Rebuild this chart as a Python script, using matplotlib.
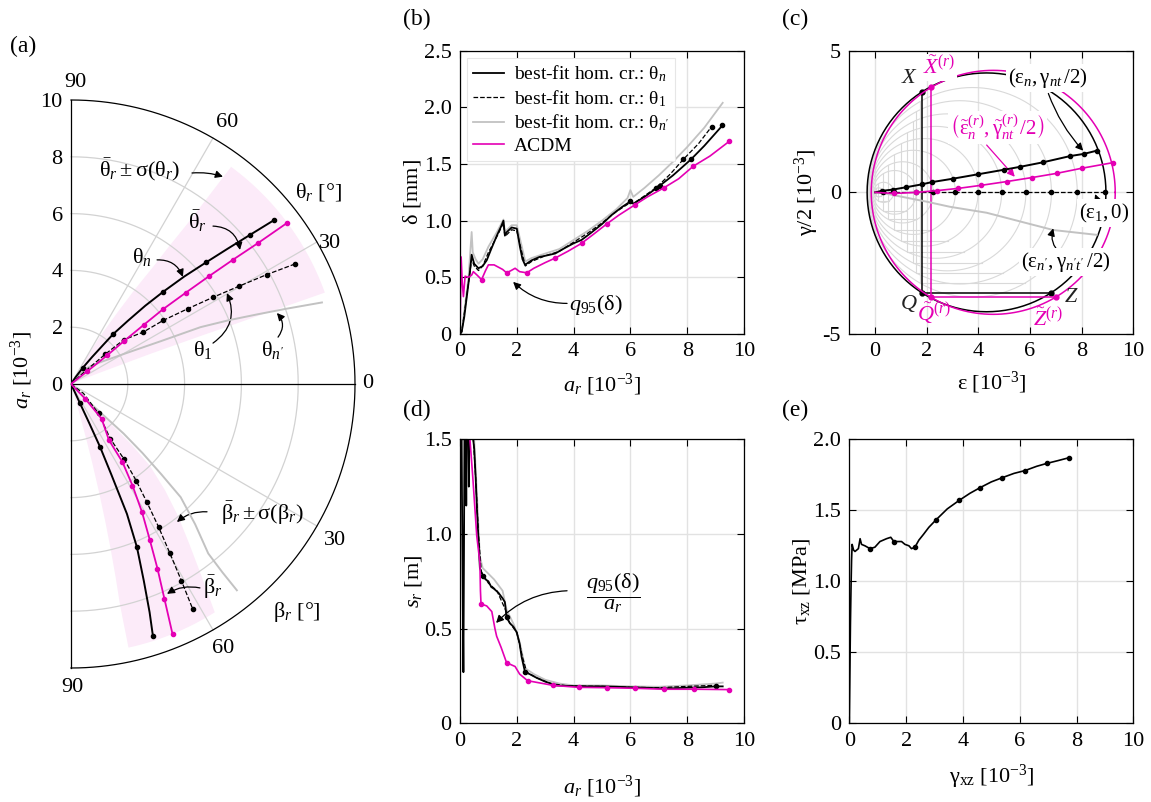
import numpy as np
import matplotlib
matplotlib.use('Agg')
import matplotlib.pyplot as plt
from matplotlib.lines import Line2D

plt.rcParams['font.family'] = 'serif'
plt.rcParams['font.serif'] = ['Liberation Serif', 'DejaVu Serif']
plt.rcParams['mathtext.fontset'] = 'custom'
plt.rcParams['mathtext.rm'] = 'Liberation Serif'
plt.rcParams['mathtext.it'] = 'Liberation Serif:italic'
plt.rcParams['mathtext.bf'] = 'Liberation Serif:bold'
plt.rcParams['mathtext.fallback'] = 'stix'

MAG = '#e400b4'
GRAY = '#c2c2c2'
GRID = '#e2e2e2'
BAND = '#fcebf9'
FS = 16

# ---------------- (a) polar data: radius a_r [1e-3], angles in degrees
th_n_r = [0, 0.3, 0.7, 1.2, 1.8, 2.3, 3.0, 3.8, 4.6, 5.5, 6.4, 7.3, 8.2, 9.2]
th_n = [58, 56, 54, 52, 50.5, 49.8, 48, 46.5, 45, 43.5, 42, 40.8, 39.8, 38.9]
th_1_r = [0, 0.7, 1.6, 2.42, 3.13, 3.94, 4.9, 5.86, 6.85, 7.9, 8.93]
th_1 = [45, 42, 41, 40, 35.7, 34.6, 32.8, 31.4, 30.2, 29.2, 28.2]
th_np_r = [0, 0.4, 0.8, 1.28, 2.5, 3.5, 4.98, 6.0, 7.0, 8.0, 9.29]
th_np = [50, 48, 45, 36.7, 28.1, 25.5, 23.7, 22, 20.5, 19.3, 18]
acdm_r = [0, 0.72, 1.63, 2.38, 3.29, 4.18, 5.16, 6.16, 7.18, 8.25, 9.5]
th_acdm = [38, 38, 38.4, 39, 39.1, 39.1, 38.5, 38, 37.5, 37, 36.7]
be_acdm = [46, 46, 48.6, 55.9, 56.6, 58.8, 61, 63.2, 64.9, 66.5, 67.9]
be_n_r = [0, 0.75, 1.5, 2.44, 3.5, 4.98, 6.2, 7.39, 8.5, 9.34]
be_n = [65, 65, 65, 65.2, 66, 66.7, 68, 69.7, 71, 72]
be_1_r = [0, 0.55, 1.42, 2.37, 3.25, 4.1, 4.95, 5.9, 6.9, 7.95, 9.02]
be_1 = [37, 37, 47, 54.3, 54.8, 56, 57.3, 58.5, 59.7, 60.7, 61.6]
be_np_r = [0, 0.79, 1.5, 2.54, 3.5, 4.5, 5.55, 6.6, 7.68, 8.5, 9.32]
be_np = [45.5, 45.5, 44, 43.3, 44, 45, 45.9, 48.5, 51, 51.2, 51.2]
band_r = [0, 1, 2, 3, 4, 5, 6, 7, 8, 9.5]
th_hi = [62, 60, 58.5, 57, 56, 55, 54.5, 54, 53.8, 53.6]
th_lo = [22, 21.5, 21, 20.8, 20.5, 20.3, 20.1, 20, 19.9, 19.8]
be_hi = [74, 74, 74.5, 75, 75.5, 76, 76.5, 77, 77.5, 77.7]
be_lo = [45, 45, 45, 45, 46, 48.5, 51, 53.5, 55.5, 57.8]

# ---------------- (b) delta vs a_r
b_x_n = [0, 0.06, 0.15, 0.25, 0.35, 0.41, 0.5, 0.65, 0.8, 0.94, 1.1, 1.3, 1.45, 1.53, 1.58, 1.65, 1.82,
         2.0, 2.11, 2.2, 2.29, 2.4, 2.52, 2.8, 3.0, 3.35, 3.7, 4.0, 4.28, 4.6, 5.0, 5.34, 5.7, 6.0, 6.1,
         6.5, 7.04, 7.5, 8.13, 8.6, 9.24]
b_y_n = [0, 0.02, 0.15, 0.35, 0.55, 0.70, 0.62, 0.58, 0.60, 0.65, 0.75, 0.87, 0.95, 1.0, 0.87, 0.90, 0.94,
         0.93, 0.77, 0.66, 0.61, 0.63, 0.65, 0.68, 0.69, 0.71, 0.76, 0.80, 0.83, 0.89, 0.97, 1.05, 1.12, 1.17,
         1.15, 1.21, 1.31, 1.40, 1.54, 1.66, 1.84]
b_x_1 = [0, 0.06, 0.15, 0.3, 0.41, 0.5, 0.65, 0.8, 1.0, 1.3, 1.53, 1.58, 1.82, 2.0, 2.15, 2.3, 2.52, 3.0,
         3.5, 4.0, 4.5, 5.0, 5.5, 6.0, 6.1, 6.9, 7.4, 7.86, 8.4, 8.86]
b_y_1 = [0, 0.02, 0.18, 0.45, 0.66, 0.6, 0.56, 0.6, 0.72, 0.86, 0.98, 0.86, 0.92, 0.91, 0.75, 0.6, 0.64,
         0.69, 0.73, 0.81, 0.89, 0.98, 1.08, 1.16, 1.15, 1.29, 1.41, 1.54, 1.68, 1.83]
b_x_g = [0, 0.06, 0.15, 0.3, 0.41, 0.45, 0.55, 0.65, 0.8, 1.0, 1.3, 1.53, 1.58, 1.82, 2.0, 2.15, 2.3, 2.52,
         3.0, 3.5, 4.0, 4.5, 5.0, 5.5, 5.9, 6.0, 6.1, 6.5, 7.0, 7.5, 8.0, 8.6, 9.25]
b_y_g = [0, 0.02, 0.2, 0.5, 0.9, 0.72, 0.66, 0.62, 0.66, 0.77, 0.9, 1.01, 0.9, 0.96, 0.96, 0.8, 0.64, 0.67,
         0.71, 0.75, 0.83, 0.91, 1.0, 1.1, 1.2, 1.27, 1.21, 1.29, 1.40, 1.52, 1.65, 1.82, 2.04]
b_x_m = [0, 0.04, 0.08, 0.12, 0.18, 0.3, 0.41, 0.47, 0.6, 0.76, 0.9, 1.0, 1.2, 1.35, 1.5, 1.64, 1.8, 1.94,
         2.1, 2.35, 2.6, 3.0, 3.35, 3.8, 4.28, 4.7, 5.16, 5.6, 6.16, 6.6, 7.18, 7.7, 8.21, 8.8, 9.48]
b_y_m = [0, 0.68, 0.45, 0.33, 0.51, 0.5, 0.52, 0.55, 0.52, 0.48, 0.56, 0.61, 0.61, 0.59, 0.57, 0.54, 0.56,
         0.58, 0.55, 0.54, 0.58, 0.63, 0.67, 0.73, 0.80, 0.88, 0.97, 1.05, 1.14, 1.21, 1.29, 1.37, 1.48, 1.57,
         1.70]

# ---------------- (c) Mohr circles (strain, 1e-3)
c_x_n = [0, 0.25, 0.7, 1.2, 1.8, 2.19, 3.0, 4.0, 5.0, 5.61, 6.5, 7.55, 8.1, 8.58]
c_y_n = [0, 0.05, 0.1, 0.18, 0.28, 0.36, 0.48, 0.64, 0.8, 0.9, 1.06, 1.28, 1.36, 1.47]
c_x_m = [0, 0.72, 1.6, 2.38, 3.22, 4.12, 5.09, 6.06, 7.03, 8.0, 9.22]
c_y_m = [0, -0.04, 0, 0.06, 0.14, 0.25, 0.38, 0.52, 0.67, 0.85, 1.05]
c_x_1 = [0, 0.31, 0.72, 1.6, 2.25, 3.11, 3.99, 4.9, 5.84, 6.83, 7.83, 8.9]
c_x_g = [0, 0.5, 1.0, 2.0, 2.9, 4.32, 5.5, 6.9, 8.58]
c_y_g = [0, -0.06, -0.15, -0.33, -0.51, -0.72, -1.0, -1.33, -1.5]
step_e1 = [0.31, 0.72, 1.6, 2.25, 3.11, 3.99, 4.9, 5.84, 6.83, 7.83]
step_e2 = [-0.04, -0.06, -0.09, -0.12, -0.15, -0.18, -0.21, -0.24, -0.27, -0.29]
step_ex = [0.05, 0.12, 0.3, 0.5, 0.75, 1.0, 1.25, 1.45, 1.6, 1.72]
fin_n = (8.94, -0.31, 1.82)    # eps1, eps2, eps_x
fin_m = (9.3, -0.15, 2.16)

# ---------------- (d) spacing s_r
d_x_n = [0.04, 0.07, 0.1, 0.12, 0.14, 0.17, 0.2, 0.22, 0.25, 0.28, 0.31, 0.35, 0.4, 0.45, 0.5, 0.55, 0.6,
         0.65, 0.7, 0.8, 0.9, 1.0, 1.1, 1.2, 1.35, 1.5, 1.58, 1.64, 1.75, 1.88, 2.0, 2.1, 2.17, 2.29, 2.45,
         2.7, 3.0, 3.4, 3.9, 4.5, 5.0, 5.5, 6.0, 6.5, 7.0, 7.5, 8.0, 8.5, 9.0, 9.25]
d_y_n = [2.0, 1.2, 0.6, 0.27, 0.9, 2.0, 1.6, 1.15, 2.0, 1.7, 1.25, 2.0, 1.7, 1.52, 1.45, 1.3, 1.12, 0.97,
         0.82, 0.78, 0.76, 0.75, 0.72, 0.71, 0.69, 0.66, 0.64, 0.56, 0.53, 0.51, 0.48, 0.42, 0.35, 0.27, 0.26,
         0.24, 0.22, 0.20, 0.197, 0.195, 0.195, 0.193, 0.19, 0.188, 0.185, 0.185, 0.188, 0.19, 0.195, 0.195]
d_x_g = [0.3, 0.4, 0.5, 0.6, 0.7, 0.8, 1.0, 1.2, 1.5, 1.64, 1.9, 2.1, 2.3, 2.6, 3.0, 3.5, 4, 5, 6, 7, 8, 9,
         9.25]
d_y_g = [2.0, 1.6, 1.5, 1.2, 0.88, 0.82, 0.79, 0.76, 0.7, 0.6, 0.52, 0.43, 0.29, 0.26, 0.23, 0.21, 0.2, 0.2,
         0.195, 0.193, 0.2, 0.21, 0.215]
d_x_1 = [0.3, 0.45, 0.55, 0.65, 0.75, 1.0, 1.3, 1.6, 1.75, 2.0, 2.2, 2.35, 2.7, 3.2, 3.8, 5, 6, 7, 8, 8.9]
d_y_1 = [2.0, 1.55, 1.3, 1.0, 0.8, 0.74, 0.7, 0.6, 0.53, 0.48, 0.35, 0.27, 0.24, 0.21, 0.197, 0.195, 0.19,
         0.188, 0.195, 0.2]
d_x_m = [0.3, 0.35, 0.45, 0.59, 0.7, 0.72, 0.74, 0.94, 1.12, 1.23, 1.29, 1.45, 1.64, 1.94, 2.1, 2.38, 3.29,
         4.18, 5.16, 6.16, 7.18, 8.24, 9.48]
d_y_m = [2.0, 1.5, 1.3, 0.99, 0.85, 0.7, 0.63, 0.62, 0.59, 0.50, 0.46, 0.40, 0.32, 0.30, 0.26, 0.225, 0.20,
         0.19, 0.188, 0.185, 0.18, 0.18, 0.178]

# ---------------- (e) shear stress vs shear strain
e_x = [0, 0.02, 0.04, 0.06, 0.08, 0.1, 0.15, 0.2, 0.32, 0.38, 0.43, 0.55, 0.73, 0.9, 1.08, 1.31, 1.46, 1.57,
       1.7, 1.84, 1.96, 2.1, 2.19, 2.31, 2.45, 2.61, 2.8, 3.04, 3.45, 3.87, 4.25, 4.61, 5.0, 5.39, 5.8, 6.19,
       6.6, 6.95, 7.35, 7.73]
e_y = [0, 0.35, 0.7, 0.95, 1.15, 1.26, 1.22, 1.21, 1.23, 1.30, 1.26, 1.25, 1.23, 1.24, 1.28, 1.30, 1.31,
       1.28, 1.28, 1.28, 1.26, 1.25, 1.23, 1.24, 1.29, 1.33, 1.38, 1.43, 1.51, 1.57, 1.62, 1.66, 1.70, 1.73,
       1.76, 1.78, 1.81, 1.83, 1.85, 1.87]
e_marks = [0.73, 1.57, 2.31, 3.04, 3.87, 4.61, 5.39, 6.19, 6.95, 7.73]


def pol(r, ang, lower=False):
    r = np.asarray(r, float)
    a = np.radians(ang)
    s = -1.0 if lower else 1.0
    return r * np.cos(a), s * r * np.sin(a)


def near(xs, vals):
    xs = np.asarray(xs, float)
    return [int(np.argmin(np.abs(xs - v))) for v in vals]


def arrow(ax, txt_xy, tip_xy, rad=0.0, color='k'):
    ax.annotate('', xy=tip_xy, xytext=txt_xy,
                arrowprops=dict(arrowstyle='-|>', color=color, lw=0.9, mutation_scale=11,
                                shrinkA=0, shrinkB=0, connectionstyle='arc3,rad=%s' % rad))


def style(ax):
    ax.tick_params(direction='in', top=True, right=True, length=5, width=0.8,
                   labelsize=FS, pad=6)
    for s in ax.spines.values():
        s.set_linewidth(0.9)
    ax.grid(True, color=GRID, lw=1.0)
    ax.set_axisbelow(True)


fig = plt.figure(figsize=(11.51, 8.02), dpi=100)

# ======================= (a)
axa = fig.add_axes([71 / 1151, 134 / 802, 284 / 1151, 568 / 802])
axa.set_xlim(0, 10)
axa.set_ylim(-10, 10)
for s in ['top', 'right', 'bottom']:
    axa.spines[s].set_visible(False)
axa.spines['left'].set_linewidth(0.9)
axa.set_xticks([])
axa.set_yticks([0, 2, 4, 6, 8, 10])
axa.set_yticklabels(['0', '2', '4', '6', '8', '10'])
axa.tick_params(axis='y', length=0, pad=6, labelsize=FS)

phi = np.linspace(-90, 90, 361)
for rr in [2, 4, 6, 8]:
    axa.plot(*pol(rr, phi), color='#d2d2d2', lw=0.9, clip_on=False, zorder=1)
for ang in [30, 60, -30, -60]:
    axa.plot(*pol([0, 10], [ang, ang]), color='#d2d2d2', lw=0.9, clip_on=False, zorder=1)
axa.plot(*pol(10, phi), color='k', lw=0.9, clip_on=False, zorder=3)
axa.plot([0, 10], [0, 0], color='k', lw=0.9, clip_on=False, zorder=3)

# shaded sectors
for lo, hi, low in [(th_lo, th_hi, False), (be_lo, be_hi, True)]:
    arc = np.linspace(hi[-1], lo[-1], 30)
    xs = np.concatenate([pol(band_r, hi, low)[0], pol(band_r[-1], arc, low)[0], pol(band_r[::-1], lo[::-1], low)[0]])
    ys = np.concatenate([pol(band_r, hi, low)[1], pol(band_r[-1], arc, low)[1], pol(band_r[::-1], lo[::-1], low)[1]])
    axa.fill(xs, ys, color=BAND, lw=0, zorder=0, clip_on=False)

axa.plot(*pol(th_np_r, th_np), color=GRAY, lw=1.4, zorder=4)
axa.plot(*pol(th_1_r, th_1), 'k--', lw=0.9, marker='o', ms=3, markevery=list(range(2, 11)), zorder=5)
axa.plot(*pol(th_n_r, th_n), 'k-', lw=1.4, marker='o', ms=3, markevery=[2, 5, 8, 10, 12, 13], zorder=5)
axa.plot(*pol(acdm_r, th_acdm), color=MAG, lw=1.3, marker='o', ms=3, markevery=list(range(1, 11)), zorder=6)

axa.plot(*pol(be_np_r, be_np, True), color=GRAY, lw=1.4, zorder=4)
axa.plot(*pol(be_1_r, be_1, True), 'k--', lw=0.9, marker='o', ms=3, markevery=list(range(2, 11)), zorder=5)
axa.plot(*pol(be_n_r, be_n, True), 'k-', lw=1.4, marker='o', ms=3, markevery=[1, 3, 6, 9], zorder=5)
axa.plot(*pol(acdm_r, be_acdm, True), color=MAG, lw=1.3, marker='o', ms=3, markevery=list(range(1, 11)), zorder=6)

for (tx, ty, s) in [(0.14, 10.6, '90'), (5.5, 9.2, '60'), (9.12, 4.96, '30'), (10.45, 0, '0'),
                    (9.3, -5.5, '30'), (5.35, -9.3, '60'), (0.05, -10.7, '90')]:
    axa.text(tx, ty, s, fontsize=FS, ha='center', va='center', clip_on=False)
axa.text(8.7, 6.76, r'$\mathrm{θ}_r$ [°]', fontsize=FS, ha='center', va='center')
axa.text(7.96, -8.03, r'$\mathrm{β}_r$ [°]', fontsize=FS, ha='center', va='center')

axa.text(2.43, 7.54, r'$\bar{\mathrm{θ}}_r \pm \mathrm{σ}(\mathrm{θ}_r)$', fontsize=FS, ha='center', va='center')
arrow(axa, (4.26, 7.43), (5.35, 7.3), rad=-0.1)
axa.text(4.47, 5.72, r'$\bar{\mathrm{θ}}_r$', fontsize=FS, ha='center', va='center')
arrow(axa, (5.0, 5.56), (5.95, 4.72), rad=-0.4)
axa.text(2.5, 4.47, r'$\mathrm{θ}_n$', fontsize=FS, ha='center', va='center')
arrow(axa, (3.03, 4.37), (3.94, 3.77), rad=-0.35)
axa.text(4.65, 1.2, r'$\mathrm{θ}_1$', fontsize=FS, ha='center', va='center')
arrow(axa, (5.0, 1.44), (5.49, 3.2), rad=0.4)
axa.text(7.08, 1.2, r"$\mathrm{θ}_{n'}$", fontsize=FS, ha='center', va='center')
arrow(axa, (7.29, 1.65), (7.25, 2.5), rad=0.4)
axa.text(6.73, -4.54, r'$\bar{\mathrm{β}}_r \pm \mathrm{σ}(\mathrm{β}_r)$', fontsize=FS, ha='center', va='center')
arrow(axa, (4.79, -4.5), (3.73, -4.86), rad=0.2)
axa.text(5.0, -7.15, r'$\bar{\mathrm{β}}_r$', fontsize=FS, ha='center', va='center')
arrow(axa, (4.54, -7.18), (3.38, -7.39), rad=0.2)

axa.set_ylabel(r'$a_r$ [10$^{-3}$]', fontsize=FS, va='center')
axa.yaxis.set_label_coords(-0.173, 0.525)

# ======================= (b)
axb = fig.add_axes([460 / 1151, 468 / 802, 284 / 1151, 283.3 / 802])
style(axb)
axb.plot(b_x_g, b_y_g, color=GRAY, lw=1.3)
axb.plot(b_x_1, b_y_1, 'k--', lw=0.9, marker='o', ms=3,
         markevery=near(b_x_1, [6.9, 7.86, 8.86]))
axb.plot(b_x_n, b_y_n, 'k-', lw=1.3, marker='o', ms=3,
         markevery=near(b_x_n, [6.0, 7.04, 8.13, 9.24]))
axb.plot(b_x_m, b_y_m, color=MAG, lw=1.2, marker='o', ms=3,
         markevery=near(b_x_m, [0.76, 1.64, 2.35, 3.35, 4.28, 5.16, 6.16, 7.18, 8.21, 9.48]))
axb.set_xlim(0, 10)
axb.set_ylim(0, 2.5)
axb.set_xticks([0, 2, 4, 6, 8, 10])
axb.set_yticks([0, 0.5, 1.0, 1.5, 2.0, 2.5])
axb.set_yticklabels(['0', '0.5', '1.0', '1.5', '2.0', '2.5'])
axb.set_ylabel(r'$\mathrm{δ}$ [mm]', fontsize=FS, va='center')
axb.yaxis.set_label_coords(-0.169, 0.5)
axb.set_xlabel(r'$a_r$ [10$^{-3}$]', fontsize=FS, va='center')
axb.xaxis.set_label_coords(0.5, -0.18)
handles = [Line2D([], [], color='k', lw=1.3), Line2D([], [], color='k', ls='--', lw=0.9),
           Line2D([], [], color=GRAY, lw=1.3), Line2D([], [], color=MAG, lw=1.2)]
labels = [r'best-fit hom. cr.: $\mathrm{θ}_n$', r'best-fit hom. cr.: $\mathrm{θ}_1$',
          r"best-fit hom. cr.: $\mathrm{θ}_{n'}$", 'ACDM']
leg = axb.legend(handles, labels, loc='upper left', bbox_to_anchor=(0.025, 0.975), fontsize=14,
                 frameon=True, fancybox=False, framealpha=1, edgecolor='#e6e6e6',
                 handlelength=1.6, handletextpad=0.5, labelspacing=0.2, borderpad=0.3,
                 borderaxespad=0)
leg.get_frame().set_linewidth(0.8)
axb.text(4.79, 0.26, r'$q_{95}(\mathrm{δ})$', fontsize=FS, ha='center', va='center')
arrow(axb, (3.77, 0.27), (1.87, 0.46), rad=-0.2)

# ======================= (c)
axc = fig.add_axes([849.3 / 1151, 468 / 802, 284 / 1151, 283.3 / 802])
style(axc)
axc.set_xlim(-1, 10)
axc.set_ylim(-5, 5)
k = (284 / 11) / (283.3 / 10)   # display aspect of the Mohr circles
ph = np.linspace(0, 2 * np.pi, 361)


def mohr(e1, e2, ex, color, lw, mk):
    c = (e1 + e2) / 2
    R = (e1 - e2) / 2
    axc.plot(c + R * np.cos(ph), k * R * np.sin(ph), color=color, lw=lw, zorder=2)
    yx = k * np.sqrt(R ** 2 - (ex - c) ** 2)
    axc.plot([ex, ex, 2 * c - ex], [yx, -yx, -yx], color=color, lw=lw, zorder=2,
             marker='o' if mk else None, ms=3.5)


for e1, e2, ex in zip(step_e1, step_e2, step_ex):
    mohr(e1, e2, ex, '#d9d9d9', 0.8, False)
mohr(*fin_n, 'k', 1.1, True)
mohr(*fin_m, MAG, 1.1, True)

axc.plot(c_x_g, c_y_g, color=GRAY, lw=1.4, zorder=3)
axc.plot(c_x_1, np.zeros(len(c_x_1)), 'k--', lw=0.9, marker='o', ms=3, markevery=list(range(1, 12)), zorder=3)
axc.plot(c_x_n, c_y_n, 'k-', lw=1.4, marker='o', ms=3, markevery=list(range(1, 14)), zorder=4)
axc.plot(c_x_m, c_y_m, color=MAG, lw=1.2, marker='o', ms=3, markevery=list(range(1, 11)), zorder=5)

wb = dict(facecolor='white', edgecolor='none', pad=1.5)
axc.text(1.34, 4.02, r'$X$', fontsize=FS, ha='center', va='center', color='#222222', bbox=wb, zorder=6)
axc.text(2.47, 4.41, r'$\tilde{X}^{(r)}$', fontsize=FS, ha='center', va='center', color=MAG, bbox=wb, zorder=6)
axc.text(6.71, 4.04, r'$(\mathrm{ε}_n,\mathrm{γ}_{nt}\,/2)$', fontsize=15, ha='center', va='center', bbox=wb, zorder=6)
axc.text(4.74, 2.29, r'$\left(\tilde{\mathrm{ε}}_n^{(r)},\tilde{\mathrm{γ}}_{nt}^{(r)}\,/2\right)$', fontsize=15,
         ha='center', va='center', color=MAG, bbox=wb, zorder=6)
axc.text(8.87, -0.73, r'$(\mathrm{ε}_1,0)$', fontsize=15, ha='center', va='center', bbox=wb, zorder=6)
axc.text(7.39, -2.45, r"$(\mathrm{ε}_{n'},\mathrm{γ}_{n't'}\,/2)$", fontsize=15, ha='center', va='center', bbox=wb, zorder=6)
axc.text(1.3, -3.92, r'$Q$', fontsize=FS, ha='center', va='center', color='#222222', zorder=6)
axc.text(2.28, -4.25, r'$\tilde{Q}^{(r)}$', fontsize=FS, ha='center', va='center', color=MAG, zorder=6)
axc.text(7.6, -3.72, r'$Z$', fontsize=FS, ha='center', va='center', color='#222222', zorder=6)
axc.text(6.7, -4.5, r'$\tilde{Z}^{(r)}$', fontsize=FS, ha='center', va='center', color=MAG, zorder=6)
arrow(axc, (6.71, 3.49), (8.06, 1.47), rad=0.1)
arrow(axc, (4.32, 1.67), (5.41, 0.55), rad=0.0, color=MAG)
arrow(axc, (8.71, -0.51), (8.52, -0.06), rad=0.0)
arrow(axc, (7.16, -2.15), (6.9, -1.27), rad=-0.3)
axc.set_xticks([0, 2, 4, 6, 8, 10])
axc.set_yticks([-5, 0, 5])
axc.set_yticklabels(['-5', '0', '5'])
axc.set_ylabel(r'$\mathrm{γ}$/2 [10$^{-3}$]', fontsize=FS, va='center')
axc.yaxis.set_label_coords(-0.149, 0.5)
axc.set_xlabel(r'$\mathrm{ε}$ [10$^{-3}$]', fontsize=FS, va='center')
axc.xaxis.set_label_coords(0.5, -0.173)

# ======================= (d)
axd = fig.add_axes([460 / 1151, 78.7 / 802, 284 / 1151, 284 / 802])
style(axd)
axd.plot(d_x_g, d_y_g, color=GRAY, lw=1.3)
axd.plot(d_x_1, d_y_1, 'k--', lw=0.9)
axd.plot(d_x_n, d_y_n, 'k-', lw=1.3, marker='o', ms=3, markevery=near(d_x_n, [0.8, 1.64, 2.29, 9.0]))
axd.plot(d_x_m, d_y_m, color=MAG, lw=1.2, marker='o', ms=3,
         markevery=near(d_x_m, [0.74, 1.64, 2.38, 3.29, 4.18, 5.16, 6.16, 7.18, 8.24, 9.48]))
axd.set_xlim(0, 10)
axd.set_ylim(0, 1.5)
axd.set_xticks([0, 2, 4, 6, 8, 10])
axd.set_yticks([0, 0.5, 1.0, 1.5])
axd.set_yticklabels(['0', '0.5', '1.0', '1.5'])
axd.set_ylabel(r'$s_r$ [m]', fontsize=FS, va='center')
axd.yaxis.set_label_coords(-0.165, 0.5)
axd.set_xlabel(r'$a_r$ [10$^{-3}$]', fontsize=FS, va='center')
axd.xaxis.set_label_coords(0.5, -0.225)
axd.text(5.39, 0.69, r'$\dfrac{q_{95}(\mathrm{δ})}{a_r}$', fontsize=FS, ha='center', va='center')
arrow(axd, (3.77, 0.70), (1.27, 0.53), rad=0.2)

# ======================= (e)
axe = fig.add_axes([849.3 / 1151, 78.7 / 802, 284 / 1151, 284 / 802])
style(axe)
axe.plot(e_x, e_y, 'k-', lw=1.2, marker='o', ms=3, markevery=near(e_x, e_marks))
axe.set_xlim(0, 10)
axe.set_ylim(0, 2.0)
axe.set_xticks([0, 2, 4, 6, 8, 10])
axe.set_yticks([0, 0.5, 1.0, 1.5, 2.0])
axe.set_yticklabels(['0', '0.5', '1.0', '1.5', '2.0'])
axe.set_ylabel(r'$\mathrm{τ}_{\mathrm{xz}}$ [MPa]', fontsize=FS, va='center')
axe.yaxis.set_label_coords(-0.167, 0.5)
axe.set_xlabel(r'$\mathrm{γ}_{\mathrm{xz}}$ [10$^{-3}$]', fontsize=FS, va='center')
axe.xaxis.set_label_coords(0.5, -0.19)

# panel letters
for (px, py, s) in [(23, 46, '(a)'), (417, 19, '(b)'), (795, 19, '(c)'), (417, 410, '(d)'), (795, 410, '(e)')]:
    fig.text(px / 1151, 1 - py / 802, s, fontsize=17, ha='center', va='center')

fig.savefig('out.png', dpi=100)
